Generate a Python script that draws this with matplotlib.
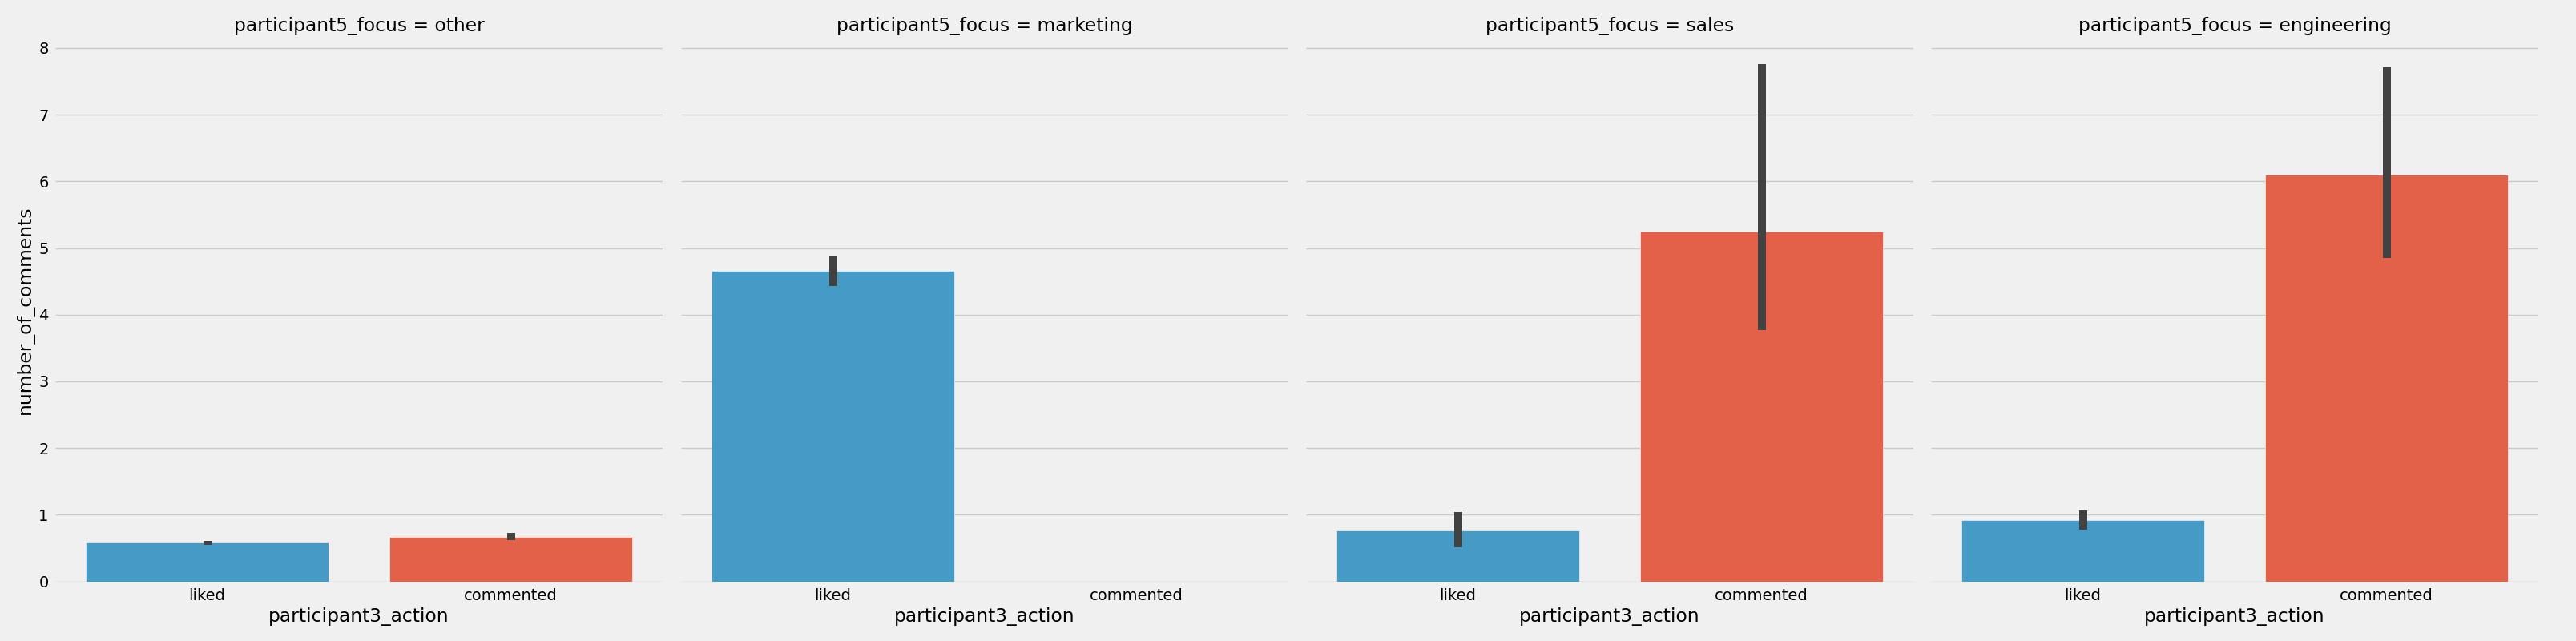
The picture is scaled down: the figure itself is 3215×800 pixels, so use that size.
import numpy as np
import matplotlib
matplotlib.use('Agg')
import matplotlib.pyplot as plt
import seaborn as sns

plt.style.use('fivethirtyeight')

# data
focus = ['other', 'marketing', 'sales', 'engineering']
actions = ['liked', 'commented']

liked_mean = [0.58, 4.66, 0.76, 0.92]
liked_lo = [0.55, 4.43, 0.51, 0.78]
liked_hi = [0.61, 4.87, 1.04, 1.06]

commented_mean = [0.67, np.nan, 5.25, 6.10]
commented_lo = [0.62, np.nan, 3.77, 4.85]
commented_hi = [0.73, np.nan, 7.76, 7.71]

# farby ako v seaborn barplot (desaturacia 0.75), stara paleta fivethirtyeight
colors = [sns.desaturate('#30a2da', 0.75), sns.desaturate('#fc4f30', 0.75)]

fig = plt.figure(figsize=(32.15, 8), dpi=100)
fig.patch.set_facecolor('#f0f0f0')

W, H = 3215, 800
lefts = [69, 850, 1630, 2410]
ymax = max(max(liked_hi), np.nanmax(commented_hi)) * 1.05

axes = []
for i, f in enumerate(focus):
    ax = fig.add_axes([lefts[i] / W, 74.5 / H, 758 / W, ymax * 83.2 / H])
    axes.append(ax)
    means = [liked_mean[i], commented_mean[i]]
    lo = [liked_lo[i], commented_lo[i]]
    hi = [liked_hi[i], commented_hi[i]]
    x = np.arange(len(actions))
    ax.bar(x, means, width=0.8, color=colors, edgecolor='#f0f0f0', linewidth=0.5)
    ax.vlines(x, lo, hi, color='.26', linewidth=7.2)
    ax.set_xlim(-0.5, 1.5)
    ax.set_ylim(0, ymax)
    ax.set_xticks(x)
    ax.set_xticklabels(actions)
    ax.set_yticks(range(0, 9))
    ax.grid(axis='x', visible=False)
    ax.grid(axis='y', color='#cbcbcb', linewidth=1.0)
    ax.set_axisbelow(True)
    for s in ax.spines.values():
        s.set_visible(False)
    ax.tick_params(axis='both', labelsize=14, length=0, pad=6)
    ax.set_xlabel('participant3_action', fontsize=16.8)
    ax.set_title(f'participant5_focus = {f}', fontsize=16.8)
    if i == 0:
        ax.set_ylabel('number_of_comments', fontsize=16.8)
    else:
        ax.tick_params(axis='y', labelleft=False)

fig.savefig('out.png', dpi=100, facecolor='#f0f0f0')
